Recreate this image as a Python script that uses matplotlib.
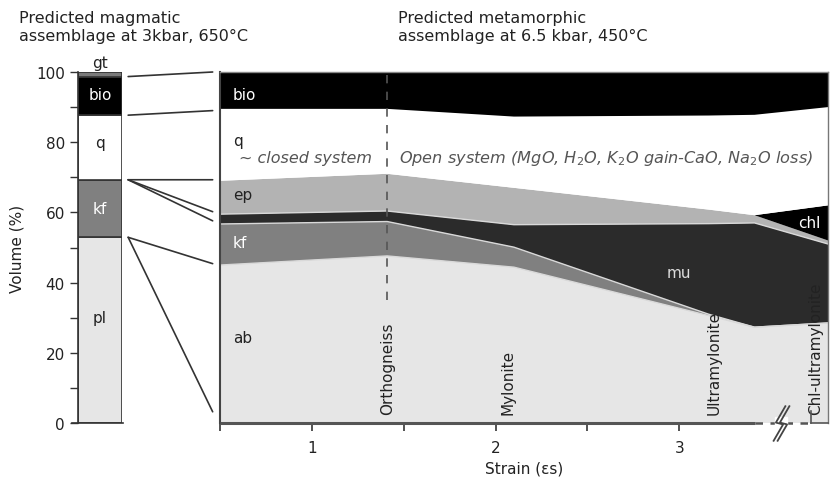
import matplotlib
matplotlib.use("Agg")
import matplotlib.pyplot as plt
from matplotlib.patches import ConnectionPatch
from matplotlib.path import Path
import numpy as np

plt.rcParams['font.family'] = ['DejaVu Sans']

# ---------------- data ----------------
# left bar: magmatic assemblage (volume %)
bar_minerals = ['pl', 'kf', 'q', 'bio', 'gt']
bar_values = [52.9, 16.4, 18.4, 11.0, 1.3]
bar_colors = ['#e6e6e6', '#808080', '#ffffff', '#000000', '#7a7a7a']

# main chart: metamorphic assemblage vs strain
strain = [0.5, 1.41, 2.1, 3.16, 3.41, 3.81]
ab = [45.0, 47.6, 44.4, 30.6, 27.3, 28.5]
kf = [11.7, 9.8, 5.7, 0.4, 0.0, 0.0]
mu = [2.8, 3.0, 6.4, 25.8, 29.7, 22.5]
ep = [9.5, 10.6, 10.5, 4.0, 2.2, 1.0]
chl = [0.0, 0.0, 0.0, 0.0, 0.0, 10.0]
q = [20.5, 18.5, 20.3, 26.8, 28.6, 28.0]
bio = [10.5, 10.5, 12.7, 12.4, 12.2, 10.0]
layer_colors = ['#e6e6e6', '#808080', '#2b2b2b', '#b3b3b3', '#000000', '#ffffff', '#000000']

stage_names = ['Orthogneiss', 'Mylonite', 'Ultramylonite', 'Chl-ultramylonite']
stage_x = [1.41, 2.07, 3.19, 3.74]

x_major = [1, 2, 3]
x_minor = [0.5, 1.5, 2.5]
y_major = [0, 20, 40, 60, 80, 100]
y_minor = [10, 30, 50, 70, 90]

# links from bar boundaries to chart boundaries
link_from = [98.7, 87.7, 69.3, 69.3, 69.3, 52.9, 52.9]
link_to = [100.0, 89.0, 69.3, 60.2, 57.6, 45.4, 3.2]

# ---------------- figure ----------------
W, H = 830, 481
fig = plt.figure(figsize=(W / 100, H / 100), dpi=100)

def px(x0, y0, x1, y1):
    return [x0 / W, 1 - y1 / H, (x1 - x0) / W, (y1 - y0) / H]

txt = '#222222'

# ----- left bar -----
ax1 = fig.add_axes(px(78, 73, 122, 424))
bottom = 0
for v, c in zip(bar_values, bar_colors):
    ax1.bar(0.5, v, width=1.0, bottom=bottom, color=c, edgecolor='#333333', linewidth=1.2)
    bottom += v
ax1.set_xlim(0, 1)
ax1.set_ylim(0, 100)
ax1.set_xticks([])
ax1.set_yticks(y_major)
ax1.set_yticks(y_minor, minor=True)
ax1.tick_params(axis='y', which='both', direction='out', length=6, width=1, colors='#333333',
                labelsize=11, labelcolor=txt)
for s in ['top', 'right']:
    ax1.spines[s].set_visible(False)
ax1.spines['left'].set_color('#333333')
ax1.spines['bottom'].set_color('#333333')
ax1.spines['left'].set_linewidth(1.2)
ax1.spines['bottom'].set_linewidth(1.2)
ax1.spines['bottom'].set_bounds(-0.14, 1.02)
ax1.spines['bottom'].set_clip_on(False)
ax1.set_ylabel('Volume (%)', fontsize=11, color=txt, labelpad=8)

bar_label_pos = {'pl': 30, 'kf': 61, 'q': 80, 'bio': 93.5}
bar_label_colors = {'pl': txt, 'kf': 'white', 'q': txt, 'bio': 'white'}
for m in bar_minerals[:4]:
    ax1.text(0.5, bar_label_pos[m], m, ha='center', va='center', fontsize=11,
             color=bar_label_colors[m])
ax1.text(0.5, 100.5, 'gt', ha='center', va='bottom', fontsize=11, color=txt)

# ----- main chart -----
ax2 = fig.add_axes(px(220, 73, 828, 424))
layers = [ab, kf, mu, ep, chl, q, bio]
ax2.stackplot(strain, *layers, colors=layer_colors, linewidth=0)
cs = np.cumsum(np.array(layers), axis=0)
for k in range(3):
    ax2.plot(strain, cs[k], color='#d9d9d9', lw=1.0)
ax2.set_xlim(strain[0], strain[-1])
ax2.set_ylim(0, 100)
ax2.set_yticks([])
ax2.set_xticks(x_major)
ax2.set_xticks(x_minor, minor=True)
ax2.tick_params(axis='x', which='both', direction='out', length=6, width=1.2, colors='#333333',
                labelsize=11, labelcolor=txt, pad=6)
ax2.spines['bottom'].set_visible(False)
ax2.spines['left'].set_color('#444444')
ax2.spines['left'].set_linewidth(1.5)
ax2.spines['top'].set_color('#888888')
ax2.spines['top'].set_linewidth(1.0)
ax2.spines['right'].set_color('#777777')
ax2.spines['right'].set_linewidth(1.0)
ax2.set_xlabel('Strain (\u03b5s)', fontsize=11, color=txt, labelpad=4)

# bottom axis line: solid, then dashed with a break
ax2.plot([strain[0], 3.41], [0, 0], color='#555555', lw=2.2, clip_on=False, zorder=5,
         solid_capstyle='butt')
ax2.plot([3.41, 3.72], [0, 0], color='#555555', lw=1.8, ls=(0, (3, 3)), clip_on=False, zorder=5)
ax2.plot([3.72, strain[-1]], [0, 0], color='#555555', lw=1.2, clip_on=False, zorder=5)
ax2.plot([3.72, 3.72], [0, 3.5], color='#555555', lw=1.2, clip_on=False, zorder=5)
# break symbol (zigzag marker)
zig = Path([(0.35, 1.0), (-0.2, 0.05), (0.2, -0.05), (-0.35, -1.0)],
           [Path.MOVETO, Path.LINETO, Path.LINETO, Path.LINETO])
ax2.plot([3.555], [0], marker='s', ms=9, mfc='white', mec='white', clip_on=False, zorder=6)
for dx in (-0.012, 0.012):
    ax2.plot([3.555 + dx], [0], marker=zig, ms=26, mfc='none', mec='#444444', mew=1.3,
             clip_on=False, zorder=7)

# orthogneiss divider
ax2.plot([stage_x[0], stage_x[0]], [35, 100], color='#555555', lw=1.2, ls=(0, (5, 5)))

# layer labels
ax2.text(0.57, 93.5, 'bio', fontsize=11, color='white', va='center')
ax2.text(0.57, 80.5, 'q', fontsize=11, color=txt, va='center')
ax2.text(0.57, 65.0, 'ep', fontsize=11, color=txt, va='center')
ax2.text(0.57, 51.5, 'kf', fontsize=11, color='white', va='center')
ax2.text(0.57, 24.5, 'ab', fontsize=11, color=txt, va='center')
ax2.text(3.0, 43.0, 'mu', fontsize=11, color='#dddddd', va='center', ha='center')
ax2.text(3.77, 57.0, 'chl', fontsize=11, color='white', va='center', ha='right')

ax2.text(0.605, 75.5, '~ closed system', fontsize=11.5, style='italic', color='#555555', va='center')
ax2.text(1.475, 75.5, 'Open system (MgO, H$_2$O, K$_2$O gain-CaO, Na$_2$O loss)', fontsize=11.6,
         style='italic', color='#555555', va='center')

for name, xs in zip(stage_names, stage_x):
    ax2.text(xs, 2.5, name, rotation=90, ha='center', va='bottom', fontsize=11, color=txt)

# connecting lines
for a, b in zip(link_from, link_to):
    con = ConnectionPatch(xyA=(1.14, a), coordsA=ax1.transData,
                          xyB=(0.46, b), coordsB=ax2.transData,
                          color='#333333', lw=1.2)
    fig.add_artist(con)

# titles
fig.text(19 / W, 1 - 11 / H, 'Predicted magmatic\nassemblage at 3kbar, 650\u00b0C', ha='left', va='top',
         fontsize=11.5, color=txt, linespacing=1.25)
fig.text(398 / W, 1 - 11 / H, 'Predicted metamorphic\nassemblage at 6.5 kbar, 450\u00b0C', ha='left', va='top',
         fontsize=11.5, color=txt, linespacing=1.25)

fig.savefig('out.png', dpi=100)
